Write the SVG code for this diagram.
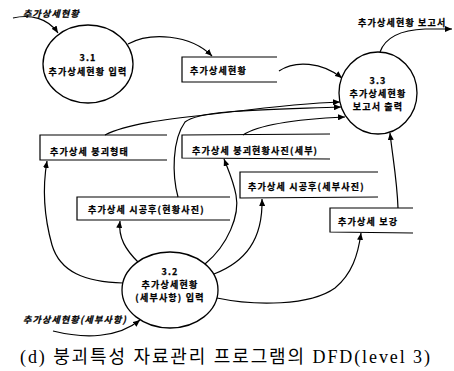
<svg xmlns="http://www.w3.org/2000/svg" width="454" height="371" viewBox="0 0 454 371">
<defs>
<marker id="ah" markerUnits="userSpaceOnUse" markerWidth="8" markerHeight="6" refX="7" refY="3" orient="auto">
<path d="M0,0 L7,3 L0,6 Z" fill="#000"/>
</marker>
<style>
.t{font-family:"Noto Sans CJK KR","Liberation Sans",sans-serif;font-size:9px;font-weight:bold;letter-spacing:1.2px;fill:#000;stroke:#000;stroke-width:0.25}
.c{text-anchor:middle}
.i{font-style:italic}
.p{fill:#fff;stroke:#000;stroke-width:1.3}
.s{fill:none;stroke:#000;stroke-width:1.2}
.e{fill:none;stroke:#000;stroke-width:1.2;marker-end:url(#ah)}
.cap{font-family:"Liberation Serif","Noto Sans CJK KR",serif;font-size:18px;fill:#000}
</style>
</defs>
<rect width="454" height="371" fill="#fff"/>
<g id="connectors">
<path class="e" d="M13,18 C30,14 48,18 58,33"/>
<path class="e" d="M128,44 C150,32 190,34 212,56"/>
<path class="e" d="M279,71 C295,60 322,62 342,78"/>
<path class="e" d="M105,135 C130,122 180,118 230,112 C280,106 310,103 340,102"/>
<path class="e" d="M178,197 C172,175 172,140 185,122 C200,110 260,110 341,107"/>
<path class="e" d="M243,135 C255,127 280,120 345,117"/>
<path class="e" d="M398,208 C397,180 393,160 390,133"/>
<path class="e" d="M380,52 C385,38 400,30 425,29 L452,29"/>
<path class="e" d="M123,283 C85,282 60,272 52,245 C45,220 42,190 47,161"/>
<path class="e" d="M138,262 C126,250 118,238 120,221"/>
<path class="e" d="M205,264 C228,245 240,215 236,195 C233,180 229,172 224,159"/>
<path class="e" d="M214,274 C245,262 263,240 262,199"/>
<path class="e" d="M217,298 C255,306 310,306 335,288 C352,274 358,255 361,233"/>
<path class="e" d="M53,331 C85,339 118,338 140,320"/>
</g>
<g id="ext-in1"><text class="t i" x="23" y="17">추가상세현황</text></g>
<g id="ext-out"><text class="t" x="358" y="26">추가상세현황 보고서</text></g>
<g id="ext-in2"><text class="t i" x="23" y="323">추가상세현황(세부사항)</text></g>
<g id="p31">
<ellipse class="p" cx="88" cy="64" rx="45" ry="39"/>
<text class="t c" x="88" y="61">3.1</text>
<text class="t c" x="88" y="75">추가상세현황 입력</text>
</g>
<g id="p33">
<ellipse class="p" cx="378" cy="93" rx="39" ry="41"/>
<text class="t c" x="378" y="84">3.3</text>
<text class="t c" x="378" y="97">추가상세현황</text>
<text class="t c" x="378" y="110">보고서 출력</text>
</g>
<g id="p32">
<ellipse class="p" cx="170" cy="290" rx="48" ry="38"/>
<text class="t c" x="170" y="275">3.2</text>
<text class="t c" x="170" y="288">추가상세현황</text>
<text class="t c" x="170" y="301">(세부사항) 입력</text>
</g>
<g id="d1">
<path class="s" d="M277,57 L182,57 L182,82 L277,82"/>
<text class="t" x="190" y="74">추가상세현황</text>
</g>
<g id="d2">
<path class="s" d="M167,135 L40,135 L40,160 L167,160"/>
<text class="t" x="50" y="155">추가상세 붕괴형태</text>
</g>
<g id="d3">
<path class="s" d="M330,134 L182,135 L182,158 L330,159"/>
<text class="t" x="192" y="154">추가상세 붕괴현황사진(세부)</text>
</g>
<g id="d4">
<path class="s" d="M378,172 L240,172 L240,198 L378,197"/>
<text class="t" x="248" y="190">추가상세 시공후(세부사진)</text>
</g>
<g id="d5">
<path class="s" d="M230,197 L77,197 L77,220 L230,220"/>
<text class="t" x="88" y="213">추가상세 시공후(현황사진)</text>
</g>
<g id="d6">
<path class="s" d="M413,208 L330,208 L330,232 L413,233"/>
<text class="t" x="338" y="225">추가상세 보강</text>
</g>
<text class="cap" x="20" y="363" textLength="410" lengthAdjust="spacing">(d) 붕괴특성 자료관리 프로그램의 DFD(level 3)</text>
</svg>
